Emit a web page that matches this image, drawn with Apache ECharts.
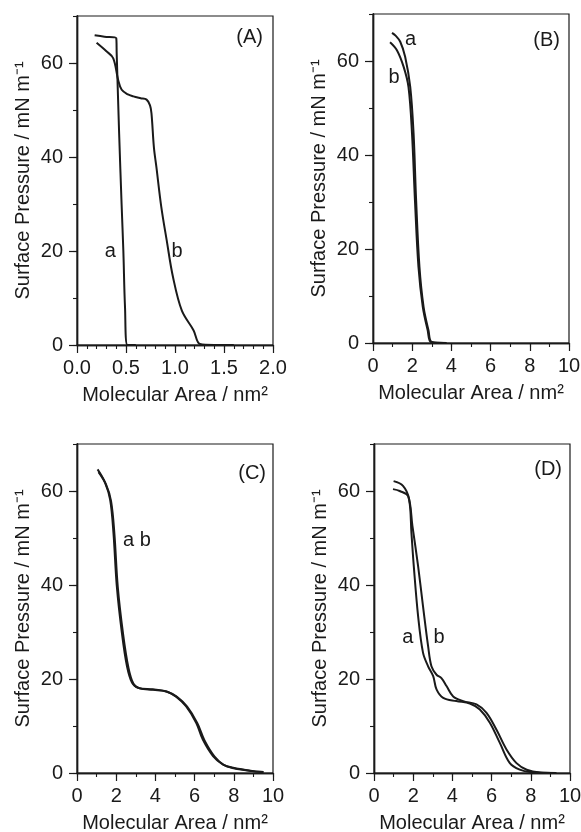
<!DOCTYPE html>
<html>
<head>
<meta charset="utf-8">
<script src="https://cdn.jsdelivr.net/npm/echarts@6/dist/echarts.min.js"></script>
<style>
html,body{margin:0;padding:0;background:#fff;}
#c{width:581px;height:832px;}
</style>
</head>
<body>
<div id="c"></div>
<script>
// ---- data (Molecular Area nm^2, Surface Pressure mN/m) ----
const panelTags = ['(A)', '(B)', '(C)', '(D)'];
const xTitle = 'Molecular Area / nm²';
const yTitle = 'Surface Pressure / mN m⁻¹';

const A_a = [[0.18,65.9],[0.28,65.6],[0.40,65.3],[0.405,62],[0.43,45],[0.455,30],[0.473,20],[0.49,8],[0.515,0],[0.60,0]];
const A_b = [[0.20,64.3],[0.30,62.5],[0.37,61],[0.42,56.4],[0.456,54.3],[0.52,53.3],[0.575,52.9],[0.65,52.5],[0.71,52.2],[0.745,51],[0.76,49.3],[0.785,42],[0.81,37.9],[0.86,29.4],[0.915,22.3],[0.98,14.4],[1.07,7.3],[1.19,3.1],[1.255,0.2],[1.40,0],[1.60,0]];

const B_a = [[0.97,66.0],[1.15,65.4],[1.39,64.1],[1.64,60.9],[1.9,54.5],[2.07,44.6],[2.2,30.4],[2.37,16.2],[2.58,7.7],[2.83,2.7],[3.0,0.2],[3.76,0]];
const B_b = [[0.87,64.0],[1.22,62.3],[1.56,58.8],[1.81,54.5],[1.99,44.6],[2.14,30.4],[2.32,16.2],[2.54,7.7],[2.79,2.7],[2.96,0.2],[3.6,0]];

const C_a = [[1.05,64.6],[1.43,61.8],[1.69,58.2],[1.86,51.1],[2.03,39.8],[2.29,29.8],[2.55,22.7],[2.81,19.2],[3.15,18.1],[3.84,17.8],[4.53,17.4],[5.04,16.3],[5.56,14.2],[6.08,10.7],[6.42,7.1],[6.94,3.6],[7.45,1.8],[7.97,1.1],[8.83,0.5],[9.52,0.2]];
const C_b = [[1.10,64.0],[1.48,61.4],[1.74,57.8],[1.91,50.8],[2.08,39.6],[2.35,29.6],[2.62,22.5],[2.88,19.0],[3.2,18.0],[3.9,17.7],[4.6,17.3],[5.1,16.2],[5.62,14.1],[6.14,10.6],[6.5,7.0],[7.02,3.5],[7.5,1.7],[8.0,1.0],[8.9,0.4],[9.5,0.2]];

const D_a = [[1.0,62.1],[1.48,61.1],[1.79,58.3],[1.91,51.1],[2.03,44],[2.25,33.4],[2.5,25.6],[2.76,22.7],[3.02,20.6],[3.19,17.8],[3.53,16],[4.2,15.3],[4.89,14.8],[5.4,13.5],[5.91,10.7],[6.42,6.4],[6.93,2.1],[7.44,0.7],[7.96,0.2],[9.3,0]];
const D_b = [[0.97,60.4],[1.31,60],[1.74,58.9],[1.96,52.6],[2.25,44],[2.5,35.5],[2.76,27],[2.93,22.7],[3.19,20.9],[3.44,20.2],[3.7,18.5],[4.04,16.3],[4.55,15.3],[5.23,14.6],[5.74,12.8],[6.25,9.2],[6.76,5],[7.27,2.1],[7.79,0.7],[8.47,0.1],[9.3,0]];

// curve labels: [x, y, text]
const A_labels = [[0.34,20,'a'],[1.02,20,'b']];
const B_labels = [[1.92,64.5,'a'],[1.07,56.4,'b']];
const C_labels = [[3.06,49.4,'a b']];
const D_labels = [[1.73,28.9,'a'],[3.32,28.9,'b']];

// [min, max, major interval, minor interval]
const xRanges = [[0,2,0.5,0.1],[0,10,2,1],[0,10,2,1],[0,10,2,1]];
const yRange = [0,70,20,10];

// ---- layout ----
const grids = [
  {left:77, top:16, width:196, height:329},
  {left:373, top:14, width:196, height:329},
  {left:77, top:444, width:196, height:329},
  {left:374, top:444, width:196, height:329}
];
const tagPos = [[263,38],[560,41],[266,474],[562,470]];
const FONT = '"Liberation Sans", Arial, sans-serif';
const INK = '#1a1a1a';

const xAxes = [], yAxes = [], series = [], graphics = [];
const allCurves = [[A_a,A_b],[B_a,B_b],[C_a,C_b],[D_a,D_b]];
const allLabels = [A_labels,B_labels,C_labels,D_labels];
const axLine = {show:true, onZero:false, lineStyle:{color:INK, width:1.4}};

grids.forEach((g, i) => {
  const xr = xRanges[i];
  // minor x ticks
  xAxes.push({
    gridIndex:i, type:'value', min:xr[0], max:xr[1], interval:xr[3], position:'bottom', offset:0,
    axisLine:axLine,
    axisTick:{show:true, inside:false, length:4, lineStyle:{color:INK, width:1.1}},
    splitLine:{show:false}, axisLabel:{show:false}
  });
  // major x ticks + labels
  xAxes.push({
    gridIndex:i, type:'value', min:xr[0], max:xr[1], interval:xr[2], position:'bottom', offset:0,
    axisLine:axLine,
    axisTick:{show:true, inside:false, length:8, lineStyle:{color:INK, width:1.2}},
    splitLine:{show:false},
    axisLabel:{color:INK, fontFamily:FONT, fontSize:20, margin:13,
      formatter: v => i===0 ? v.toFixed(1) : String(v)},
    name:xTitle, nameLocation:'middle', nameGap:40,
    nameTextStyle:{color:INK, fontFamily:FONT, fontSize:20}
  });
  // minor y ticks
  yAxes.push({
    gridIndex:i, type:'value', min:yRange[0], max:yRange[1], interval:yRange[3], position:'left', offset:0,
    axisLine:axLine,
    axisTick:{show:true, inside:false, length:4, lineStyle:{color:INK, width:1.1}},
    splitLine:{show:false}, axisLabel:{show:false}
  });
  // major y ticks + labels
  yAxes.push({
    gridIndex:i, type:'value', min:yRange[0], max:yRange[1], interval:yRange[2], position:'left', offset:0,
    axisLine:axLine,
    axisTick:{show:true, inside:false, length:8, lineStyle:{color:INK, width:1.2}},
    splitLine:{show:false},
    axisLabel:{color:INK, fontFamily:FONT, fontSize:20, margin:14, showMaxLabel:false},
    name:yTitle, nameLocation:'middle', nameGap:44,
    nameTextStyle:{color:INK, fontFamily:FONT, fontSize:20}
  });
  const xi = 2*i+1, yi = 2*i+1;
  allCurves[i].forEach(d => {
    series.push({
      type:'line', xAxisIndex:xi, yAxisIndex:yi, data:d, smooth:0.35,
      showSymbol:false, symbol:'none',
      lineStyle:{color:INK, width:2}, silent:true, animation:false
    });
  });
  series.push({
    type:'scatter', xAxisIndex:xi, yAxisIndex:yi, symbolSize:0,
    itemStyle:{opacity:1, color:INK},
    data: allLabels[i].map(l => ({value:[l[0], l[1]], name:l[2]})),
    label:{show:true, position:'inside', formatter:p => p.name,
      color:INK, fontFamily:FONT, fontSize:20, opacity:1},
    silent:true, animation:false
  });
  graphics.push({
    type:'text', right: 581 - tagPos[i][0], top: tagPos[i][1] - 11,
    style:{text:panelTags[i], fill:INK, font:'20px ' + FONT}
  });
});

const chart = echarts.init(document.getElementById('c'), null, {renderer:'canvas'});
chart.setOption({
  animation:false,
  backgroundColor:'#fff',
  grid: grids.map(g => Object.assign({show:true, borderColor:INK, borderWidth:1.2,
    backgroundColor:'transparent', containLabel:false, outerBoundsMode:'none'}, g)),
  xAxis:xAxes, yAxis:yAxes, series:series, graphic:graphics
});
</script>
</body>
</html>
